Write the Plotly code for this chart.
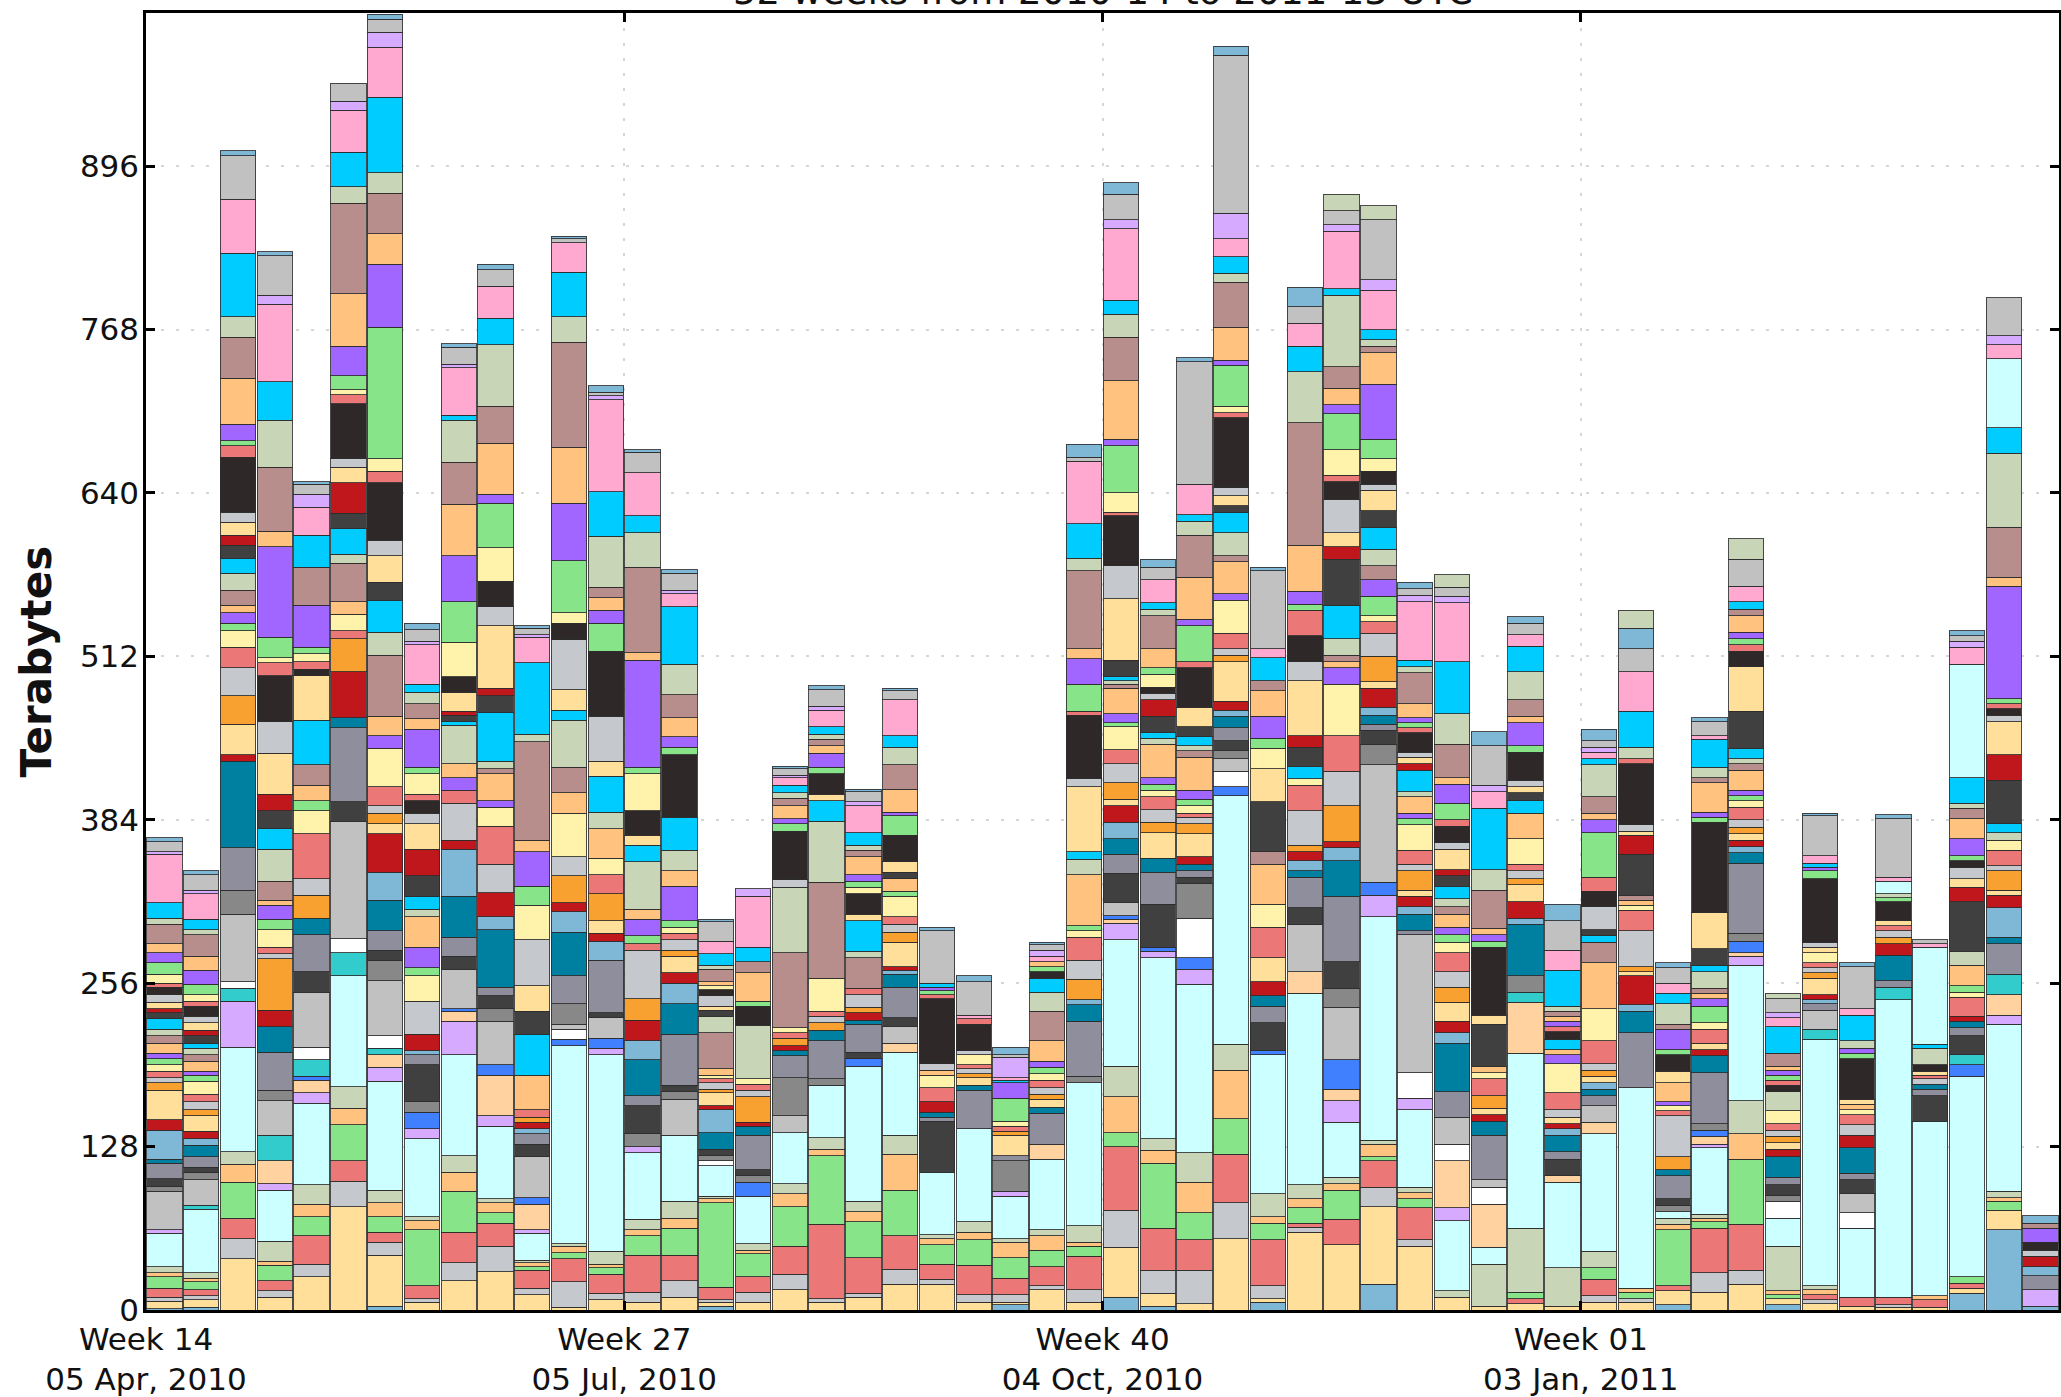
import plotly.graph_objects as go

# ---------------- categories ----------------
weeks = [f"2010-{w:02d}" for w in range(14, 53)] + [f"2011-{w:02d}" for w in range(1, 14)]

x_tick_weeks = [0, 13, 26, 39]
x_tick_text = ["Week 14<br>05 Apr, 2010", "Week 27<br>05 Jul, 2010",
               "Week 40<br>04 Oct, 2010", "Week 01<br>03 Jan, 2011"]
y_tick_vals = [0, 128, 256, 384, 512, 640, 768, 896]

# ---------------- series (stack order, bottom -> top) ----------------
series_names = [
    "A-lightblue", "A-yellow", "A-gray", "A-red", "A-green", "A-orange", "A-sage", "A-lightcyan",
    "A-lavender", "A-peach", "A-blue", "A-teal2", "A-white", "A-silver", "A-midgray", "A-darkgray",
    "A-slate", "A-teal",
    "B-lightblue", "B-darkred", "B-yellow", "B-orange2", "B-gray", "B-red", "B-paleyellow",
    "B-green", "B-purple", "B-orange", "B-brown", "B-sage", "B-cyan",
    "C-darkgray", "C-darkred", "C-yellow", "C-gray", "C-black", "C-red", "C-paleyellow", "C-green",
    "C-purple", "C-orange", "C-brown", "C-sage", "C-cyan", "C-lightcyan", "C-pink", "C-lavender",
    "C-silver", "C-lightblue", "C-sage-top",
]
series_colors = [
    "#7FB7D6", "#FFDF99", "#C5C9CD", "#EC7777", "#88E488", "#FFC27F", "#C8D5B6", "#CCFFFF",
    "#D5AAFF", "#FFD2A0", "#4080FF", "#33CCCC", "#FFFFFF", "#C1C1C1", "#888888", "#404040",
    "#8E8E9C", "#0080A0",
    "#7FB7D6", "#C0171C", "#FFDF99", "#F8A030", "#C5C9CD", "#EC7777", "#FFF2AA",
    "#88E488", "#A066FF", "#FFC27F", "#B88E8C", "#C8D5B6", "#00CCFF",
    "#404040", "#C0171C", "#FFDF99", "#C5C9CD", "#2E2828", "#EC7777", "#FFF2AA", "#88E488",
    "#A066FF", "#FFC27F", "#B88E8C", "#C8D5B6", "#00CCFF", "#CCFFFF", "#FFA8D0", "#D5AAFF",
    "#C1C1C1", "#7FB7D6", "#C8D5B6",
]

# ---------------- values (Terabytes), one list per week, in series order ----------------
wk_2010_14 = [1,6,3,7,9,3,5,26,3,0,0,0,0,30,4,6,12,3, 23,8,23,6,4,5,5,5,4,8,6,5,8, 5,3,5,6,6,3,7,9,8,7,15,5,12,0,38,2,8,3,0]
wk_2010_15 = [2,6,3,5,6,3,4,50,0,0,0,3,0,20,6,4,8,9, 5,6,12,5,6,6,10,5,3,8,5,5,4, 6,4,6,5,8,4,5,8,11,11,17,4,8,0,20,3,12,3,0]
wk_2010_16 = [0,40,16,16,28,14,10,82,36,0,0,10,5,53,19,0,33,68, 0,5,24,22,22,16,13,6,8,6,12,13,12, 10,8,10,8,43,9,0,4,13,36,32,16,50,0,42,0,34,4,0]
wk_2010_17 = [0,10,5,8,12,3,16,40,5,18,0,20,0,27,8,0,30,20, 0,13,0,40,4,5,14,8,11,4,15,25,16, 14,13,32,25,36,10,4,16,71,12,50,37,30,0,61,7,31,3,0]
wk_2010_18 = [0,26,10,22,15,10,15,64,8,10,3,13,10,43,0,16,29,13, 0,0,0,18,13,35,18,8,0,12,16,0,35, 0,0,35,0,5,6,6,5,33,0,30,0,25,0,22,10,8,2,0]
wk_2010_19 = [0,81,20,16,28,13,17,87,0,0,0,18,11,92,0,15,58,8, 0,36,0,26,0,6,13,0,0,10,30,7,20, 12,24,12,7,43,7,4,11,23,41,71,13,27,0,33,7,14,0,0]
wk_2010_20 = [3,40,10,8,12,11,10,85,11,10,0,5,10,43,16,8,15,24, 22,30,8,8,6,15,30,0,10,15,48,18,25, 14,0,21,12,45,9,10,103,49,24,32,16,59,0,39,12,10,4,0]
wk_2010_21 = [0,6,3,10,44,7,3,61,8,0,13,0,0,0,8,29,8,0, 3,13,0,0,26,0,20,6,16,24,0,6,10, 16,21,20,8,10,5,16,5,30,8,12,9,6,0,31,3,9,5,0]
wk_2010_22 = [0,23,14,24,32,15,13,79,26,8,2,0,0,31,0,10,15,32, 37,7,0,0,29,10,0,0,10,11,0,30,3, 5,3,15,0,12,0,27,32,36,40,33,33,4,0,37,3,13,3,0]
wk_2010_23 = [0,30,20,18,8,8,3,57,8,32,8,0,0,34,10,10,7,45, 10,19,0,0,22,30,15,0,5,21,4,6,38, 13,6,49,15,20,0,26,35,7,40,29,48,21,0,25,0,13,4,0]
wk_2010_24 = [0,12,5,14,3,3,2,21,3,20,5,0,0,32,0,10,8,0, 4,5,0,4,0,6,0,0,0,27,0,0,32, 18,0,20,36,0,0,27,15,27,9,77,6,56,0,20,2,5,2,0]
wk_2010_25 = [0,2,20,18,5,5,2,155,0,0,5,0,8,4,16,0,22,34, 16,7,0,21,15,0,34,0,0,16,20,37,8, 0,0,16,39,13,0,8,41,45,44,82,20,35,0,23,0,3,2,0]
wk_2010_26 = [0,8,5,15,5,3,10,154,5,0,8,0,0,16,0,4,41,0, 15,6,10,21,0,15,13,0,0,23,0,13,28, 0,0,12,35,51,0,0,22,10,10,8,40,35,0,72,3,3,5,0]
wk_2010_27 = [0,6,8,29,15,5,8,52,5,0,0,0,0,0,10,22,8,28, 15,16,0,17,38,5,0,6,13,8,0,37,13, 0,0,8,0,19,0,29,5,84,6,67,27,13,0,34,0,16,2,0]
wk_2010_28 = [0,10,13,20,21,8,13,52,0,0,0,0,0,28,6,5,40,24, 16,8,13,5,8,5,5,5,27,12,0,16,26, 0,0,0,0,49,0,0,6,8,15,18,24,45,0,10,3,13,3,0]
wk_2010_29 = [3,3,2,10,66,3,2,24,0,0,0,0,4,0,4,5,0,13, 18,3,10,3,5,3,3,0,0,5,28,13,0, 5,0,3,8,5,0,3,0,0,3,10,3,9,0,10,0,15,2,0]
wk_2010_30 = [0,6,8,12,18,3,5,37,0,0,11,0,0,0,5,5,27,7, 0,3,0,20,5,5,4,0,0,0,0,42,0, 0,0,0,0,15,0,0,4,0,22,9,0,11,0,40,6,0,0,0]
wk_2010_31 = [0,16,12,22,31,10,8,40,0,0,0,0,0,13,30,0,17,4, 0,4,0,6,0,4,4,0,0,0,59,51,0, 0,0,0,6,38,0,0,6,4,10,6,4,6,0,6,2,5,2,0]
wk_2010_32 = [0,6,3,58,54,5,9,41,0,0,0,0,0,0,5,0,30,8, 0,0,0,6,5,4,26,0,0,0,75,48,16, 0,0,5,0,16,0,0,5,11,6,5,4,6,0,13,3,13,3,0]
wk_2010_33 = [0,10,3,28,28,8,8,106,0,0,6,0,0,0,0,5,22,3, 0,6,0,4,10,5,0,0,0,0,24,5,24, 0,0,5,0,16,0,5,5,5,14,5,4,10,0,21,3,8,2,0]
wk_2010_34 = [0,20,12,26,36,28,15,65,0,7,0,0,0,13,0,7,24,10, 3,3,19,8,6,6,16,4,0,10,0,0,0, 5,0,8,0,21,0,0,15,3,18,19,14,9,0,28,0,7,2,0]
wk_2010_35 = [0,20,4,12,15,5,3,49,0,0,0,0,0,0,0,40,3,4, 0,8,0,0,0,11,10,0,0,4,0,0,0, 0,0,0,5,51,3,0,3,3,0,0,0,3,0,0,0,41,3,0]
wk_2010_36 = [0,6,6,23,20,6,8,73,0,0,0,0,0,0,0,0,30,4, 0,0,6,3,4,3,8,0,0,0,0,0,0, 0,0,0,3,21,4,0,0,0,0,0,0,0,0,3,0,26,5,0]
wk_2010_37 = [4,2,6,13,16,12,3,33,4,0,0,0,0,0,24,0,4,0, 0,0,16,3,0,4,4,18,12,0,0,0,2, 0,0,0,0,0,0,0,0,0,0,0,0,0,0,2,16,2,6,0]
wk_2010_38 = [0,16,3,15,13,11,5,55,0,12,0,0,0,0,0,0,24,5, 0,0,6,4,5,6,5,5,5,16,23,15,11, 0,0,0,0,5,0,0,4,0,4,0,0,0,0,4,5,4,2,0]
wk_2010_39 = [0,6,10,26,8,3,13,112,0,0,0,0,0,0,5,0,43,13, 4,0,0,16,15,18,5,4,0,40,0,12,6, 0,0,51,6,50,3,0,21,20,8,61,10,27,0,49,0,3,10,0]
wk_2010_40 = [10,39,29,50,11,28,24,99,13,3,3,0,0,10,0,23,15,12, 13,13,5,13,15,11,18,3,7,20,3,3,3, 13,0,48,26,39,3,15,37,5,46,34,18,11,0,56,7,20,9,0]
wk_2010_41 = [3,10,18,33,51,10,9,142,5,0,3,0,0,0,0,34,25,11, 0,0,20,8,10,10,5,5,5,26,0,5,4, 13,13,0,5,5,0,10,5,0,15,26,5,5,0,18,0,10,6,0]
wk_2010_42 = [0,5,26,24,21,24,23,132,12,0,9,0,31,0,27,5,5,5, 0,6,18,8,5,3,6,5,7,26,5,4,7, 8,0,15,0,31,5,0,28,5,33,33,11,5,0,24,0,96,3,0]
wk_2010_43 = [0,56,28,38,28,38,20,195,0,0,7,0,12,10,6,8,10,9, 5,7,31,5,5,12,26,0,5,25,5,18,16, 5,0,8,6,55,4,5,32,4,26,35,7,13,0,14,20,124,7,0]
wk_2010_44 = [6,3,10,36,13,5,18,109,0,0,3,0,0,0,0,22,13,8, 0,11,19,0,0,24,18,0,0,31,10,0,0, 39,0,26,0,0,0,16,8,17,20,8,0,18,0,7,0,61,3,0]
wk_2010_45 = [0,61,4,3,12,7,11,150,0,17,0,0,0,37,0,13,24,5, 8,7,0,5,27,20,5,0,0,0,0,0,10, 15,9,43,15,20,20,0,5,10,36,96,40,20,0,18,0,13,15,0]
wk_2010_46 = [0,51,0,20,23,5,5,43,17,9,23,0,0,41,15,21,51,28, 10,5,0,28,27,28,40,0,13,5,5,13,26, 36,10,11,26,14,5,20,28,7,13,17,56,5,0,45,5,11,0,13]
wk_2010_47 = [20,61,15,21,3,10,3,175,17,0,10,0,0,92,16,11,5,7, 6,15,5,20,18,9,5,15,13,0,11,13,17, 13,0,16,5,10,0,10,15,43,25,5,5,8,0,31,8,47,0,11]
wk_2010_48 = [0,50,5,25,7,5,4,61,9,0,0,0,20,108,0,0,3,13, 6,8,5,15,5,11,20,5,4,13,0,4,17, 0,5,5,4,15,4,0,4,4,11,24,5,5,0,46,5,5,5,0]
wk_2010_49 = [0,10,0,0,0,0,5,55,10,37,0,0,13,21,0,0,20,38, 8,9,15,12,12,15,8,6,6,10,6,6,10, 8,5,16,5,13,5,0,13,15,5,26,24,41,0,46,5,7,0,10]
wk_2010_50 = [0,3,0,0,0,0,33,13,0,34,0,0,13,6,0,0,35,11, 0,5,5,10,0,13,5,0,0,5,0,0,0, 33,0,7,0,53,0,0,5,5,5,30,16,48,0,13,5,31,11,0]
wk_2010_51 = [0,5,0,4,5,0,50,137,0,40,0,8,0,0,13,0,0,40, 5,13,13,5,6,5,20,0,0,20,0,0,10, 6,0,5,5,22,0,0,5,18,5,13,22,20,0,9,0,9,5,0]
wk_2010_52 = [0,3,0,0,0,0,30,67,0,5,0,0,0,0,0,13,6,13, 5,4,5,0,6,13,23,0,7,4,0,0,8, 0,0,0,0,6,4,0,0,4,4,4,4,28,0,16,0,23,13,0]
wk_2011_01 = [0,6,5,13,9,0,13,92,0,9,0,0,0,13,0,0,8,5, 5,0,5,5,5,18,25,0,0,36,16,0,5, 5,0,0,18,12,11,0,35,10,5,13,25,5,0,5,4,5,9,0]
wk_2011_02 = [0,6,3,0,5,3,0,157,0,0,0,0,0,0,0,0,43,17, 5,23,3,4,28,16,4,0,0,4,4,0,0, 32,15,3,5,48,4,0,0,0,0,0,9,28,0,31,0,18,16,14]
wk_2011_03 = [4,11,0,4,44,4,5,5,0,0,0,0,0,0,5,5,18,5, 0,0,0,10,32,4,4,0,3,15,0,0,0, 0,0,9,0,13,0,0,4,16,0,4,16,8,0,8,0,12,4,0]
wk_2011_04 = [0,14,15,35,5,3,3,52,3,6,5,0,0,0,5,0,40,13, 0,5,5,0,0,11,5,13,6,4,4,13,5, 13,0,28,0,71,0,0,4,4,23,4,8,22,0,3,0,11,3,0]
wk_2011_05 = [0,20,11,36,51,20,26,106,7,3,9,0,0,0,6,0,55,8, 5,5,5,5,6,10,5,4,4,16,5,4,8, 29,0,35,0,12,5,0,5,5,13,5,0,6,0,12,0,21,0,16]
wk_2011_06 = [4,5,0,0,3,3,35,22,0,0,0,0,13,0,5,8,6,16, 0,6,5,5,5,5,10,0,0,0,0,15,0, 0,0,0,0,5,4,0,4,4,3,10,0,21,0,7,4,11,0,4]
wk_2011_07 = [0,5,3,4,0,4,3,193,0,0,0,8,0,15,0,0,5,0, 3,4,13,4,4,4,8,0,0,0,0,0,0, 0,0,4,4,50,0,0,6,3,0,0,0,3,0,6,0,31,2,0]
wk_2011_08 = [0,3,0,7,0,0,0,54,0,0,0,0,12,15,0,11,5,20, 0,10,0,0,8,8,4,0,0,4,0,0,0, 0,0,4,0,32,0,0,4,4,0,0,6,20,0,5,0,33,3,0]
wk_2011_09 = [0,2,2,6,0,0,0,233,0,0,0,10,0,0,0,0,5,20, 0,9,0,5,5,4,0,0,0,0,0,0,0, 0,0,4,0,15,0,0,3,0,0,0,3,0,10,3,0,46,3,0]
wk_2011_10 = [0,2,0,6,0,3,0,137,0,0,0,0,0,0,0,20,5,4, 0,0,0,0,4,3,0,0,0,0,0,0,0, 0,0,3,0,5,0,0,0,0,0,0,13,3,76,3,0,3,0,0]
wk_2011_11 = [13,4,0,4,5,0,0,157,0,0,9,8,0,0,0,15,6,5, 0,4,0,0,0,15,4,5,0,16,0,11,0, 39,11,7,9,5,0,0,4,13,16,8,4,20,89,13,5,4,4,0]
wk_2011_12 = [63,15,0,0,7,3,5,131,7,16,0,16,0,0,0,0,24,5, 23,10,4,15,4,12,8,0,0,0,0,6,7, 34,20,26,5,5,4,0,4,88,7,39,58,20,54,11,7,30,0,0]
wk_2011_13 = [3,0,0,0,0,0,0,0,13,0,0,0,0,0,0,0,11,0, 7,8,0,0,5,0,0,0,0,0,0,0,0, 0,0,0,0,6,0,0,0,11,0,4,0,0,0,0,0,0,6,0]

week_values = [
    wk_2010_14, wk_2010_15, wk_2010_16, wk_2010_17, wk_2010_18, wk_2010_19, wk_2010_20,
    wk_2010_21, wk_2010_22, wk_2010_23, wk_2010_24, wk_2010_25, wk_2010_26, wk_2010_27,
    wk_2010_28, wk_2010_29, wk_2010_30, wk_2010_31, wk_2010_32, wk_2010_33, wk_2010_34,
    wk_2010_35, wk_2010_36, wk_2010_37, wk_2010_38, wk_2010_39, wk_2010_40, wk_2010_41,
    wk_2010_42, wk_2010_43, wk_2010_44, wk_2010_45, wk_2010_46, wk_2010_47, wk_2010_48,
    wk_2010_49, wk_2010_50, wk_2010_51, wk_2010_52, wk_2011_01, wk_2011_02, wk_2011_03,
    wk_2011_04, wk_2011_05, wk_2011_06, wk_2011_07, wk_2011_08, wk_2011_09, wk_2011_10,
    wk_2011_11, wk_2011_12, wk_2011_13,
]

# ---------------- figure ----------------
x_centers = [i + 0.5 for i in range(len(weeks))]
edge = "rgba(45,45,45,0.85)"

fig = go.Figure()
for j, name in enumerate(series_names):
    ys = [wk[j] if wk[j] > 0 else None for wk in week_values]
    fig.add_trace(go.Bar(
        x=x_centers, y=ys, name=name, width=0.96,
        customdata=weeks,
        marker=dict(color=series_colors[j], line=dict(color=edge, width=1)),
        showlegend=False,
    ))

FONT = "DejaVu Sans, Liberation Sans, sans-serif"
fig.update_layout(
    width=2061, height=1397,
    margin=dict(l=146, r=2, t=13, b=87),
    barmode="stack",
    paper_bgcolor="white", plot_bgcolor="white",
    font=dict(family=FONT, size=31, color="#111111"),
    showlegend=False,
)
axis_common = dict(
    showline=True, linecolor="black", linewidth=2.5, mirror="ticks",
    ticks="inside", ticklen=9, tickwidth=3, tickcolor="black",
    showgrid=True, gridcolor="#d6d6d6", gridwidth=2, griddash="3px,12px",
    zeroline=False, automargin=False,
    tickfont=dict(family=FONT, size=31, color="#111111"),
)
fig.update_xaxes(range=[0, 52], tickmode="array", tickvals=x_tick_weeks, ticktext=x_tick_text,
                 ticklabelstandoff=0, **axis_common)
fig.update_yaxes(range=[0, 1016], tickmode="array", tickvals=y_tick_vals,
                 ticktext=[str(v) for v in y_tick_vals], ticklabelstandoff=-2, **axis_common)

fig.add_annotation(text="<b>Terabytes</b>", xref="paper", yref="paper",
                   x=-0.057, y=0.5, xanchor="center", yanchor="middle", textangle=-90,
                   showarrow=False, font=dict(family=FONT, size=42, color="#111111"))
fig.add_annotation(text="52 weeks from 2010-14 to 2011-13 UTC", xref="paper", yref="paper",
                   x=0.5, y=1.0, xanchor="center", yanchor="bottom", yshift=-2,
                   showarrow=False, font=dict(family=FONT, size=37, color="#111111"))

fig.write_html("out.html",
               config={"displayModeBar": False},
               post_script="document.body.style.margin='0px';document.body.style.overflow='hidden';")
